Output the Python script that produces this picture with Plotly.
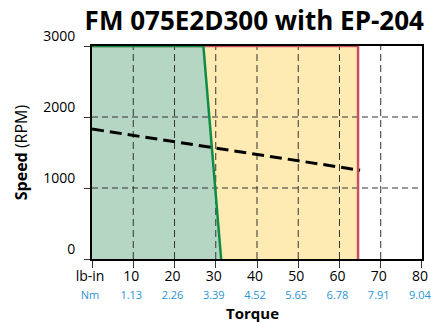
import plotly.graph_objects as go

# ---- data ----
x_ticks = [0, 10, 20, 30, 40, 50, 60, 70, 80]
lbin_labels = ["lb-in", "10", "20", "30", "40", "50", "60", "70", "80"]
nm_labels = ["Nm", "1.13", "2.26", "3.39", "4.52", "5.65", "6.78", "7.91", "9.04"]
y_ticks = [0, 1000, 2000, 3000]

# continuous zone (green)
cont_x = [0, 0, 27.0, 31.3]
cont_y = [0, 3000, 3000, 0]
# intermittent zone (yellow) boundary
int_x = [0, 0, 64.5, 64.5]
int_y = [0, 3000, 3000, 0]
# dashed line (voltage limit)
volt_x = [0, 65]
volt_y = [1830, 1250]

BLUE = "#2a94d4"
FONT = "Open Sans"

fig = go.Figure()

# yellow fill
fig.add_trace(go.Scatter(x=int_x, y=int_y, fill="toself", fillcolor="#feebb4",
                         mode="none", hoverinfo="skip", showlegend=False))
# green fill
fig.add_trace(go.Scatter(x=cont_x, y=cont_y, fill="toself", fillcolor="#b4d6c2",
                         mode="none", hoverinfo="skip", showlegend=False))

# grid lines drawn over fills
gx, gy = [], []
for t in x_ticks[1:-1]:
    gx += [t, t, None]
    gy += [y_ticks[0], y_ticks[-1], None]
fig.add_trace(go.Scatter(x=gx, y=gy, mode="lines",
                         line=dict(color="#333333", width=1, dash="7px,4px"),
                         hoverinfo="skip", showlegend=False))
hx, hy = [], []
for t in y_ticks[1:-1]:
    hx += [x_ticks[0], x_ticks[-1], None]
    hy += [t, t, None]
fig.add_trace(go.Scatter(x=hx, y=hy, mode="lines",
                         line=dict(color="#333333", width=1, dash="6px,4px"),
                         hoverinfo="skip", showlegend=False))

# red boundary (top + right side)
fig.add_trace(go.Scatter(x=int_x[1:], y=int_y[1:], mode="lines",
                         line=dict(color="#c9505b", width=2.5),
                         hoverinfo="skip", showlegend=False))
# green boundary
fig.add_trace(go.Scatter(x=cont_x[1:], y=cont_y[1:], mode="lines",
                         line=dict(color="#0d8c48", width=2.5),
                         hoverinfo="skip", showlegend=False))
# dashed black line
fig.add_trace(go.Scatter(x=volt_x, y=volt_y, mode="lines",
                         line=dict(color="#000000", width=3, dash="12px,6px"),
                         hoverinfo="skip", showlegend=False))

ticktext = [f"{a}<br><span style='color:{BLUE};font-size:11px'>{b}</span>"
            for a, b in zip(lbin_labels, nm_labels)]

fig.update_layout(
    width=431, height=322,
    margin=dict(l=92, r=9, t=46, b=63),
    paper_bgcolor="white", plot_bgcolor="white",
    font=dict(family=FONT, color="#000000", size=14),
    title=dict(text="<b>FM 075E2D300 with EP-204</b>", x=0.59, xanchor="center",
               y=0.935, yanchor="middle", font=dict(size=26, family=FONT, color="#000")),
    xaxis=dict(range=[-0.01, 80.01], tickmode="array", tickvals=x_ticks, ticktext=ticktext,
               showgrid=False, zeroline=False, showline=True, linecolor="#000",
               linewidth=2, mirror=True, ticks="outside", ticklen=7, tickcolor="#333",
               tickwidth=1, tickfont=dict(size=14, family=FONT), automargin=False,
               ticklabeloverflow="allow", ticklabelstandoff=-4, ticklabelshift=-2),
    yaxis=dict(range=[0, 3000], tickmode="array", tickvals=y_ticks,
               showgrid=False, zeroline=False, showline=True, linecolor="#000",
               linewidth=2, mirror=True, ticks="outside", ticklen=6, tickcolor="#333",
               tickwidth=1, tickfont=dict(size=14, family=FONT), automargin=False,
               ticklabelposition="outside top", ticklabelstandoff=12,
               title=dict(text="<b>Speed</b> (RPM)", standoff=12, font=dict(size=16, family=FONT))),
    annotations=[dict(text="<b>Torque</b>", xref="paper", yref="paper", x=0.487, y=0,
                      xanchor="center", yanchor="middle", yshift=-54, showarrow=False,
                      font=dict(size=15, family=FONT))],
)

fig.write_html("out.html")
